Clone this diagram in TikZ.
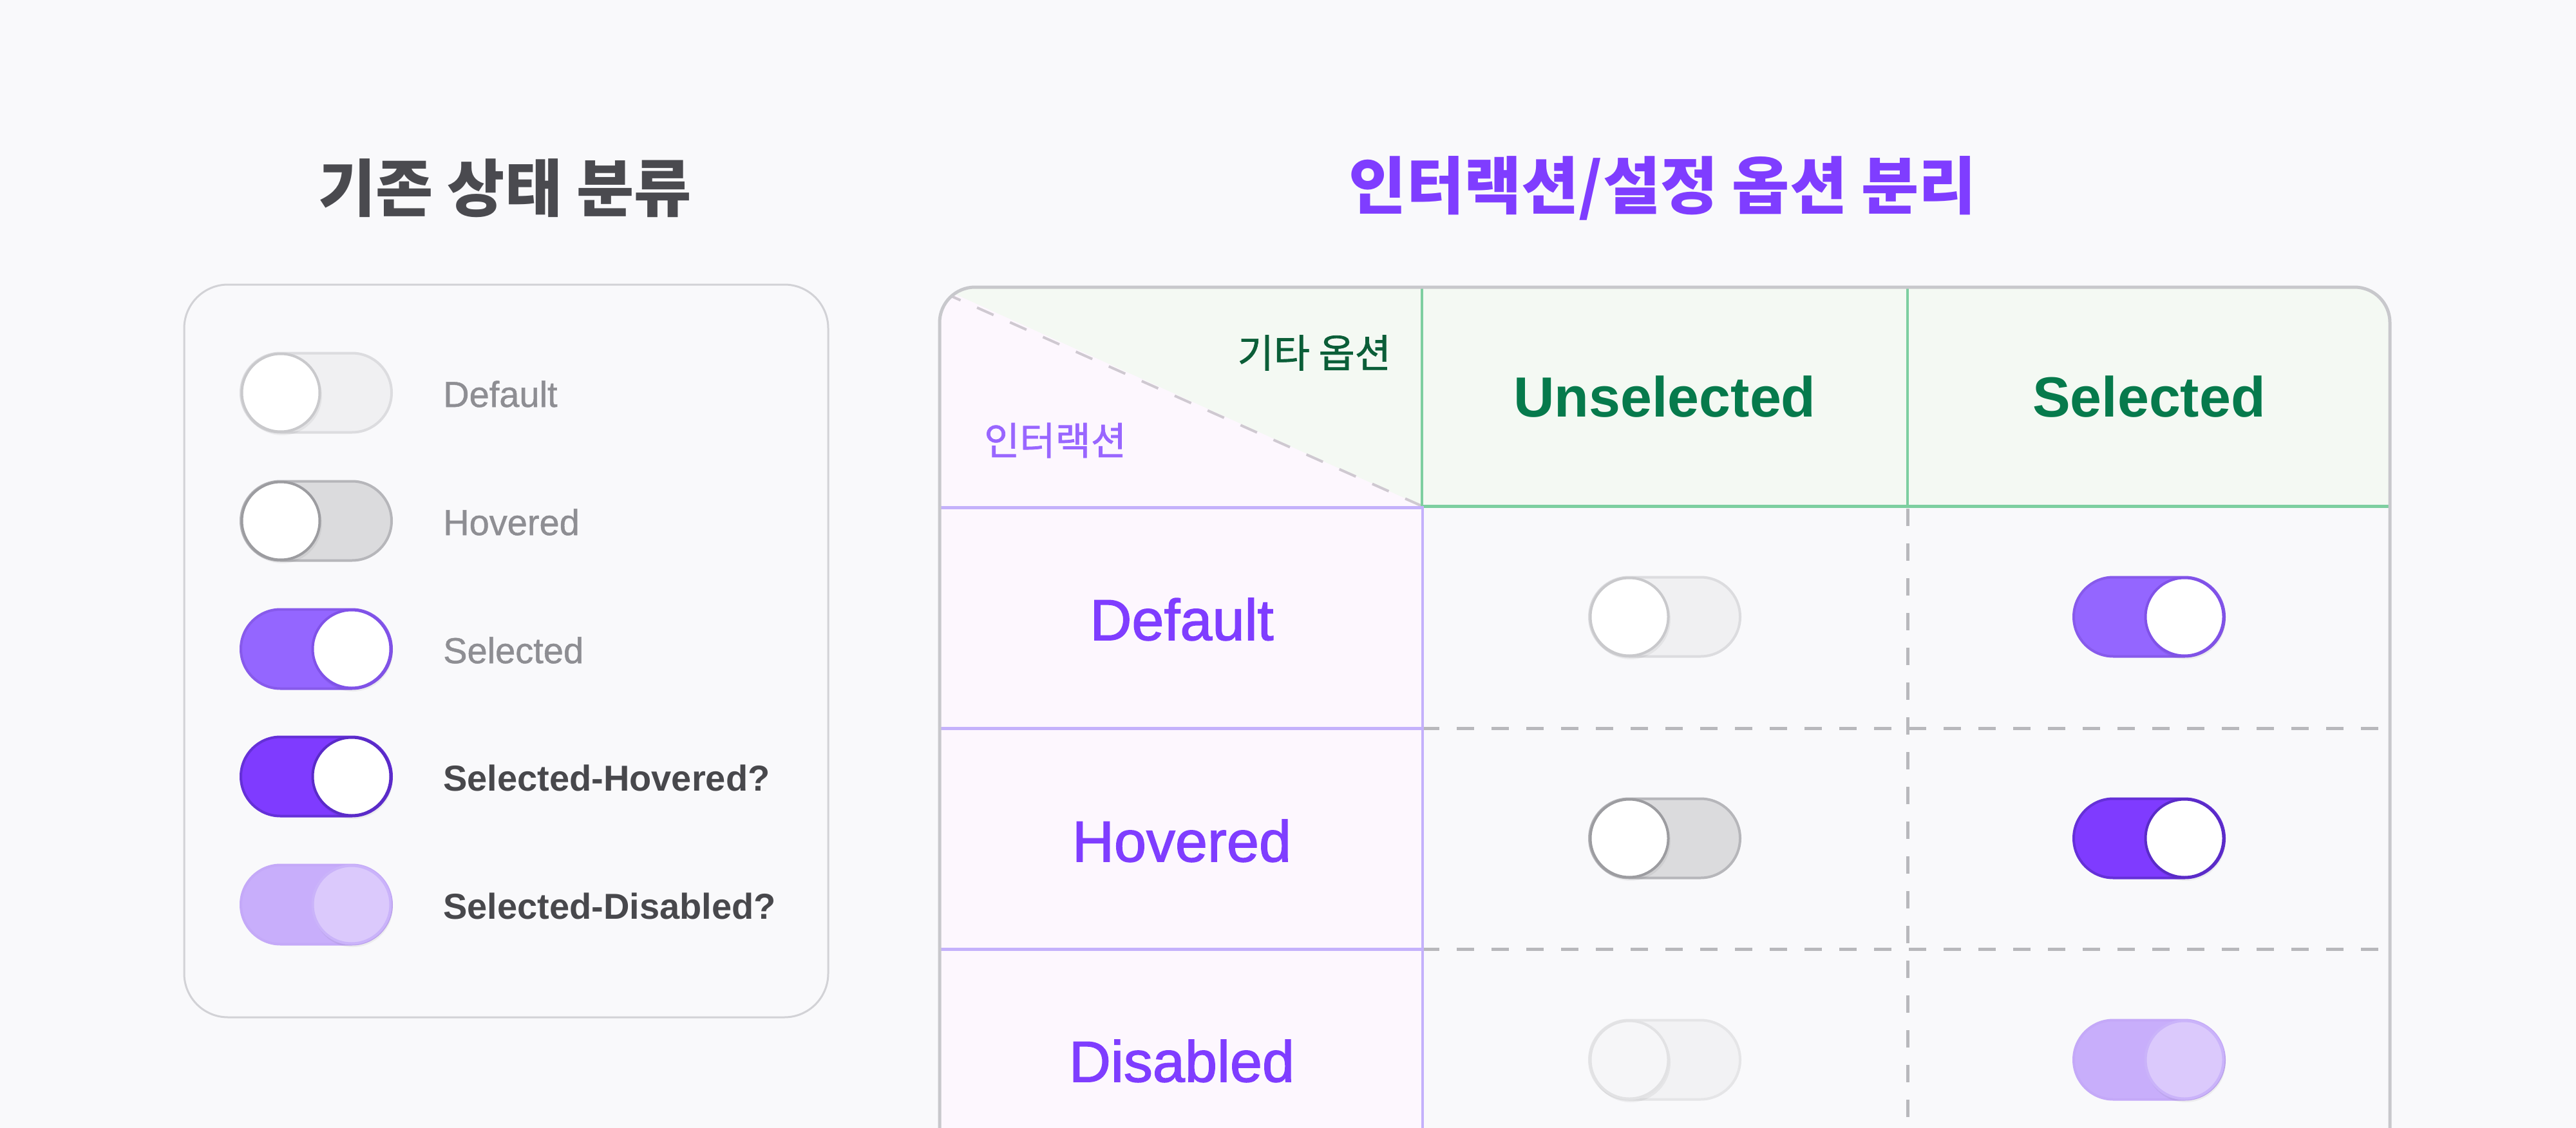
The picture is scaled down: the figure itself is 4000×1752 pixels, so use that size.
\documentclass[tikz,border=0pt]{standalone}
\usepackage{fontspec}
\setmainfont{Liberation Sans}
\newfontfamily\medsans[FakeBold=1.6]{Liberation Sans}
\newfontfamily\medsanslight[FakeBold=0.9]{Liberation Sans}
\newfontfamily\kr{Noto Sans CJK KR}
\newfontfamily\krmed[FakeBold=1.2]{Noto Sans CJK KR}
\definecolor{bg}{HTML}{F9F9FB}
\definecolor{cardline}{HTML}{D2D2D6}
\definecolor{tblline}{HTML}{C8C8CC}
\definecolor{hdrfill}{HTML}{F4F9F3}
\definecolor{colfill}{HTML}{FDF7FE}
\definecolor{greenline}{HTML}{7DCFA0}
\definecolor{purpline}{HTML}{C4B1FB}
\definecolor{dashgray}{HTML}{B8B8BC}
\definecolor{diaggray}{HTML}{CFC9D1}
\definecolor{darkgreen}{HTML}{067A4C}
\definecolor{kgreen}{HTML}{0B5E38}
\definecolor{purp}{HTML}{7F3DFF}
\definecolor{lpurp}{HTML}{9966FF}
\definecolor{titlegray}{HTML}{4A4A4F}
\definecolor{labgray}{HTML}{8E8E93}
\definecolor{labdark}{HTML}{48484C}
% toggle colours
\definecolor{dTf}{HTML}{F0F0F2}\definecolor{dTd}{HTML}{DCDCDF}\definecolor{dKd}{HTML}{C9C9CC}
\definecolor{hTf}{HTML}{DBDBDD}\definecolor{hTd}{HTML}{B6B6BA}\definecolor{hKd}{HTML}{9C9CA0}
\definecolor{sTf}{HTML}{9466FF}\definecolor{sTd}{HTML}{875AEB}\definecolor{sKd}{HTML}{8052E8}
\definecolor{shTf}{HTML}{7F3BFF}\definecolor{shTd}{HTML}{6530D8}\definecolor{shKd}{HTML}{5A2BC8}
\definecolor{sdTf}{HTML}{C8AEFB}\definecolor{sdTd}{HTML}{C4A9F8}\definecolor{sdKf}{HTML}{DBC9FC}\definecolor{sdKd}{HTML}{CAB3FA}
\definecolor{xTf}{HTML}{F2F2F4}\definecolor{xTd}{HTML}{E5E5E7}\definecolor{xKf}{HTML}{F6F6F8}\definecolor{xKd}{HTML}{E2E2E4}
% #1 x, #2 y, #3 track fill, #4 track draw, #5 knob fill, #6 knob draw, #7 knob offset
\newcommand\tgl[7]{%
  \draw[line width=4pt, fill=#3, draw=#4, rounded corners=61.4pt]
    ({#1-117},{#2-61.5}) rectangle ({#1+117},{#2+61.5});
  \fill[black, opacity=.05] ({#1+(#7)+2},{#2+4}) circle[radius=62pt];
  \draw[line width=4pt, fill=#5, draw=#6] ({#1+(#7)},#2) circle[radius=60.5pt];
}
\tikzset{
  tbllabel/.style={font=\medsans\fontsize{90}{100}\selectfont, text=purp, inner sep=0pt},
  hdrlabel/.style={font=\fontsize{88}{100}\selectfont\bfseries, text=darkgreen, inner sep=0pt},
  cardlabel/.style={font=\medsanslight\fontsize{56}{66}\selectfont, text=labgray, anchor=west, inner sep=0pt},
  cardlabelb/.style={font=\fontsize{56}{66}\selectfont\bfseries, text=labdark, anchor=west, inner sep=0pt},
  titlestyle/.style={font=\kr\bfseries\fontsize{97}{107}\selectfont, inner sep=0pt},
  dashln/.style={draw=dashgray, line width=5pt, dash pattern=on 27pt off 27pt},
}
\begin{document}
\begin{tikzpicture}[x=1pt,y=-1pt]
\useasboundingbox (0,0) rectangle (4000,1752);
\clip (0,0) rectangle (4000,1752);
\fill[bg] (0,0) rectangle (4000,1752);

% titles
\node[titlestyle, text=titlegray] (t1) at (784,292) {기존 상태 분류};
\node[titlestyle, text=purp] (t2) at (2582,292) {인터랙션/설정 옵션 분리};

% left card
\draw[draw=cardline, line width=3pt, fill=bg, rounded corners=68pt] (286,442) rectangle (1286,1580);
\tgl{491}{610}{dTf}{dTd}{white}{dKd}{-55}
\tgl{491}{809}{hTf}{hTd}{white}{hKd}{-55}
\tgl{491}{1008}{sTf}{sTd}{white}{sKd}{55}
\tgl{491}{1206}{shTf}{shTd}{white}{shKd}{55}
\tgl{491}{1405}{sdTf}{sdTd}{sdKf}{sdKd}{55}
\node[cardlabel] (l1) at (688,612) {Default};
\node[cardlabel] (l2) at (688,811) {Hovered};
\node[cardlabel] (l3) at (688,1010) {Selected};
\node[cardlabelb] (l4) at (688,1208) {Selected-Hovered?};
\node[cardlabelb] (l5) at (688,1407) {Selected-Disabled?};

% table fills
\begin{scope}
  \clip[rounded corners=55pt] (1459,1800) -- (1459,446) -- (3711,446) -- (3711,1800) -- cycle;
  \fill[hdrfill] (1459,446) rectangle (3711,786);
  \fill[colfill] (1459,786) rectangle (2208,1800);
  \fill[colfill] (1459,446) -- (2208,786) -- (1459,786) -- cycle;
  \draw[draw=diaggray, line width=4pt, dash pattern=on 28pt off 28pt] (1466,455) -- (2208,786);
\end{scope}

% grid lines
\draw[dashln] (2208,1131) -- (3711,1131);
\draw[dashln] (2208,1474) -- (3711,1474);
\draw[dashln] (2962,790) -- (2962,1760);
\draw[greenline, line width=4pt] (2208,446) -- (2208,786);
\draw[greenline, line width=4pt] (2962,446) -- (2962,786);
\draw[greenline, line width=5pt] (2208,786) -- (3711,786);
\draw[purpline, line width=5pt] (1459,788) -- (2208,788);
\draw[purpline, line width=5pt] (1459,1131) -- (2208,1131);
\draw[purpline, line width=5pt] (1459,1474) -- (2208,1474);
\draw[purpline, line width=4pt] (2209,786) -- (2209,1760);
% outer border
\draw[tblline, line width=5pt, rounded corners=55pt] (1459,1760) -- (1459,446) -- (3711,446) -- (3711,1760);

% header texts
\node[font=\krmed\fontsize{61}{70}\selectfont, text=kgreen, anchor=east, inner sep=0pt] (hk1) at (2160,548) {기타 옵션};
\node[font=\krmed\fontsize{60}{70}\selectfont, text=lpurp, anchor=west, inner sep=0pt] (hk2) at (1528,684) {인터랙션};
\node[hdrlabel] (h1) at (2585,616) {Unselected};
\node[hdrlabel] (h2) at (3337,616) {Selected};

% row labels
\node[tbllabel] (r1) at (1835,962) {Default};
\node[tbllabel] (r2) at (1835,1306) {Hovered};
\node[tbllabel] (r3) at (1835,1648) {Disabled};

% table toggles
\tgl{2585}{958}{dTf}{dTd}{white}{dKd}{-55}
\tgl{3337}{958}{sTf}{sTd}{white}{sKd}{55}
\tgl{2585}{1302}{hTf}{hTd}{white}{hKd}{-55}
\tgl{3337}{1302}{shTf}{shTd}{white}{shKd}{55}
\tgl{2585}{1646}{xTf}{xTd}{xKf}{xKd}{-55}
\tgl{3337}{1646}{sdTf}{sdTd}{sdKf}{sdKd}{55}
\end{tikzpicture}
\end{document}
